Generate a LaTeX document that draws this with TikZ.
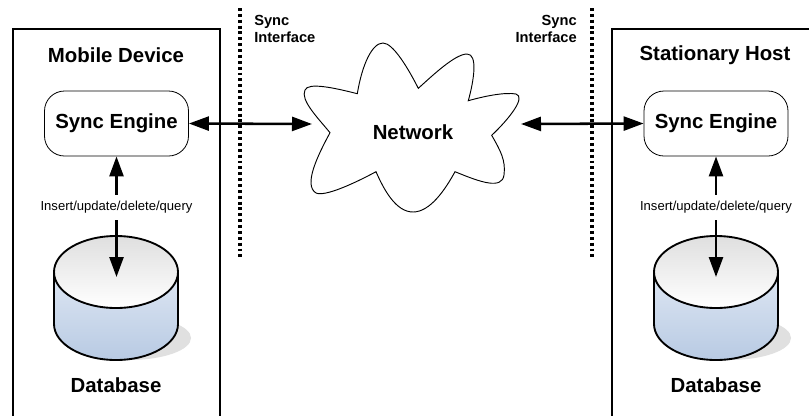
\documentclass[tikz,border=0pt]{standalone}
\usepackage{fontspec}
\setmainfont{Liberation Sans}
\usetikzlibrary{arrows.meta}
\definecolor{drumtop}{HTML}{DFDFDF}
\definecolor{drumside}{HTML}{DEE7F3}
\definecolor{drumlow}{HTML}{B8CAE3}
\definecolor{drumshadow}{HTML}{E0E0E0}
\tikzset{
  title/.style={font=\fontsize{15.3}{18}\selectfont\bfseries},
  iface/.style={font=\fontsize{11}{12.75}\selectfont\bfseries,inner sep=0pt},
  engine/.style={draw,line width=0.6pt,rounded corners=15pt,minimum width=108pt,minimum height=48.75pt,inner sep=0pt,fill=white},
  oplabel/.style={font=\fontsize{9.8}{11}\selectfont,minimum height=18.75pt,inner sep=0pt},
  link/.style={line width=1.9pt,-{Triangle[length=15pt,width=10.5pt]}},
  syncline/.style={line width=2.3pt,dash pattern=on 2.2pt off 2.2pt},
  devicebox/.style={draw,line width=0.9pt}
}
\newcommand{\dbdrum}[1]{
\fill[drumshadow] (#1+13,338) ellipse [x radius=62,y radius=22];
\path[draw,line width=1.4pt,top color=drumside,bottom color=drumlow] (#1-62,272) -- (#1-62,324) .. controls (#1-62,344) and (#1-34,360) .. (#1,360) .. controls (#1+34,360) and (#1+62,344) .. (#1+62,324) -- (#1+62,272) -- cycle;
\path[draw,line width=1.4pt,top color=drumtop,bottom color=white] (#1,272) ellipse [x radius=62,y radius=36];
}
\begin{document}
\begin{tikzpicture}[x=0.75pt,y=-0.75pt]
\useasboundingbox (0,0) rectangle (809,415);
\fill[white] (0,0) rectangle (809,415);
\draw[devicebox] (13,29) rectangle (220,430);
\draw[devicebox] (612,29) rectangle (830,430);
\draw[syncline] (240,8) -- (240,258);
\draw[syncline] (592,8) -- (592,258);
\node[title] (mobile) at (116,55) {Mobile Device};
\node[title] (host) at (715,55) {Stationary Host};
\node[iface,anchor=west,align=left] (ifaceL) at (254,29) {Sync\\Interface};
\node[iface,anchor=east,align=right] (ifaceR) at (577,29) {Sync\\Interface};
\node[engine] (engineL) at (116.5,123.5) {\fontsize{15.3}{18}\selectfont\bfseries Sync Engine};
\node[engine] (engineR) at (716,123.5) {\fontsize{15.3}{18}\selectfont\bfseries Sync Engine};
\draw[line width=0.7pt,fill=white] (357.3,93.7) .. controls (362,65) and (372,43) .. (383,43) .. controls (393,43) and (408,68) .. (418.3,88.3)
  .. controls (432,76) and (455,54) .. (467,54) .. controls (478,54) and (474,80) .. (468.3,100.7)
  .. controls (485,96) and (505,92) .. (516,94) .. controls (526,97) and (510,118) .. (491.7,135.3)
  .. controls (500,150) and (506,160) .. (504,175) .. controls (502,190) and (480,182) .. (455,171.7)
  .. controls (445,190) and (430,212) .. (413,212) .. controls (396,212) and (384,190) .. (376,171.7)
  .. controls (355,183) and (325,197) .. (316,193) .. controls (303,185) and (318,155) .. (330,132.7)
  .. controls (318,118) and (300,100) .. (305,90) .. controls (308,82) and (335,88) .. (357.3,93.7) -- cycle;
\node[title] (network) at (413,132) {Network};
\dbdrum{116}
\dbdrum{716}
\node[title] (dbL) at (116,385) {Database};
\node[title] (dbR) at (716,385) {Database};
\node[oplabel] (opL) at (116.5,207.5) {Insert/update/delete/query};
\node[oplabel] (opR) at (716,207.5) {Insert/update/delete/query};
\coordinate (drumL) at (116.5,277);
\coordinate (drumR) at (716,277);
\coordinate (cloudL) at (312,124);
\coordinate (cloudR) at (521,124);
\draw[link] (opL.north) -- (engineL.south);
\draw[link] (opL.south) -- (drumL);
\draw[link] (opR.north) -- (engineR.south);
\draw[link] (opR.south) -- (drumR);
\draw[link,{Triangle[length=15pt,width=10.5pt]}-{Triangle[length=15pt,width=10.5pt]}] (engineL.east) -- (cloudL);
\draw[link,{Triangle[length=15pt,width=10.5pt]}-{Triangle[length=15pt,width=10.5pt]}] (cloudR) -- (engineR.west);
\end{tikzpicture}
\end{document}
